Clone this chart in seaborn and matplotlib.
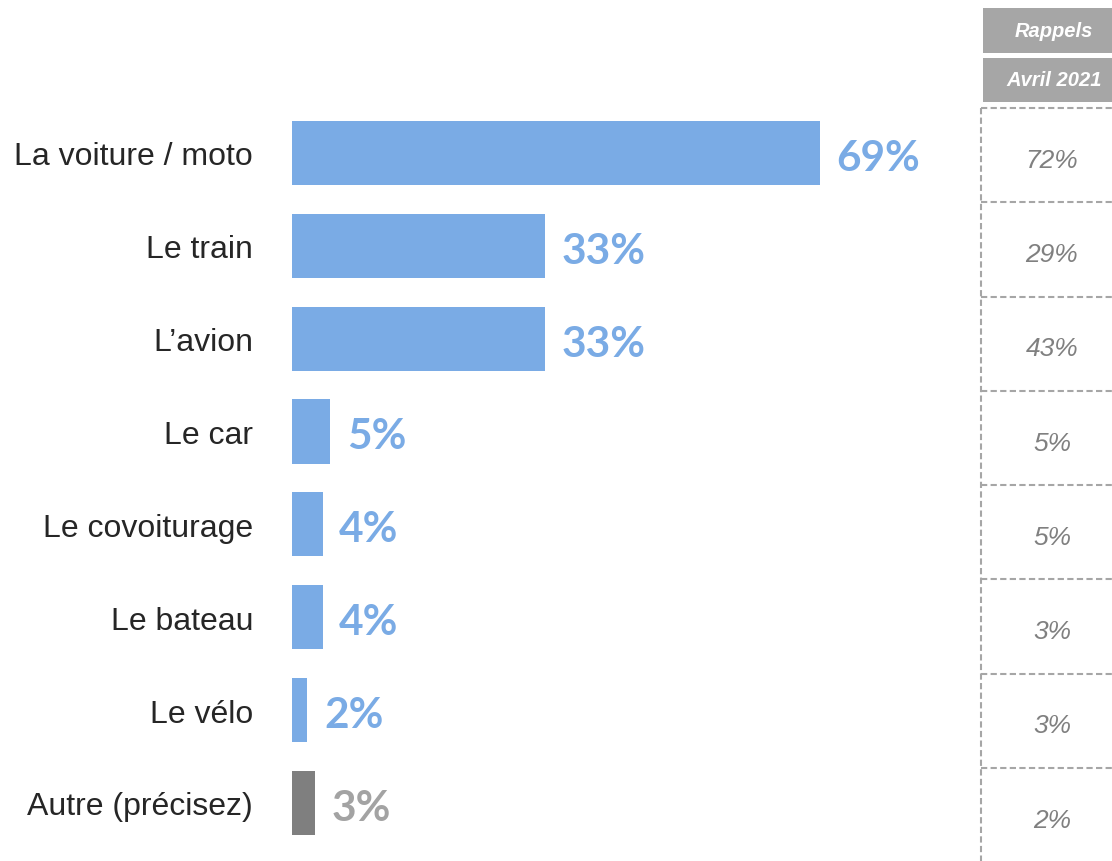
import matplotlib
matplotlib.use("Agg")
import matplotlib.pyplot as plt
from matplotlib.patches import Rectangle
import seaborn as sns

# data
categories = ["La voiture / moto", "Le train", "L\u2019avion", "Le car",
              "Le covoiturage", "Le bateau", "Le v\u00e9lo", "Autre (pr\u00e9cisez)"]
values = [69, 33, 33, 5, 4, 4, 2, 3]
rappels = ["72%", "29%", "43%", "5%", "5%", "3%", "3%", "2%"]
header_top = "Rappels"
header_sub = "Avril 2021"

BLUE = "#7AABE5"
GREY_BAR = "#7F7F7F"
GREY_LBL = "#A3A3A3"
GREY_BOX = "#A6A6A6"
GREY_TXT = "#808080"

bar_colors = [BLUE] * 7 + [GREY_BAR]
label_colors = [BLUE] * 7 + [GREY_LBL]

W, H = 1112, 862
fig = plt.figure(figsize=(W / 100, H / 100), dpi=100)
fig.patch.set_facecolor("white")

# 1. main bar chart
ax = fig.add_axes([292 / W, 11.6 / H, 668 / W, 742.9 / H])
sns.barplot(x=values, y=categories, hue=categories, palette=bar_colors,
            orient="h", width=0.69, saturation=1, legend=False, ax=ax)
ax.set_xlim(0, 87.3)
ax.set_ylim(len(categories) - 0.5, -0.5)
ax.set_xlabel("")
ax.set_ylabel("")
ax.set_xticks([])
for s in ax.spines.values():
    s.set_visible(False)
ax.tick_params(axis="y", length=0, pad=28)
for lbl in ax.get_yticklabels():
    lbl.set_fontfamily("Liberation Sans")
    lbl.set_fontsize(23)
    lbl.set_color("#262626")

for i, v in enumerate(values):
    ax.annotate(f"{v}%", xy=(v, i), xytext=(12, -3.5), textcoords="offset points",
                ha="left", va="center", fontsize=30.5, fontweight="bold",
                family="Lato", color=label_colors[i])

# 2. "Rappels" comparison column
for y0, y1, txt in [(9, 54, header_top), (59, 103, header_sub)]:
    fig.add_artist(Rectangle((983 / W, 1 - y1 / H), 150 / W, (y1 - y0) / H,
                             transform=fig.transFigure, color=GREY_BOX, lw=0))
    fig.text(1054 / W, 1 - (y0 + y1) / 2 / H, txt, ha="center", va="center",
             fontsize=14.5, fontweight="bold", style="italic",
             family="Liberation Sans", color="white")

tax = fig.add_axes([981 / W, -1 / H, 142 / W, 754 / H])
tax.set_xlim(0, 1)
tax.set_ylim(len(rappels), 0)
tax.axis("off")
dash = dict(color=GREY_BOX, lw=1.5, ls=(0, (3, 1.6)), clip_on=False)
for k in range(len(rappels)):
    tax.plot([0, 1], [k, k], **dash)
tax.plot([0, 0], [0, len(rappels)], **dash)
for k, r in enumerate(rappels):
    tax.text(0.5, k + 0.55, r, ha="center", va="center", fontsize=19,
             style="italic", family="Liberation Sans", color=GREY_TXT)

fig.savefig("out.png", dpi=100, facecolor="white")
